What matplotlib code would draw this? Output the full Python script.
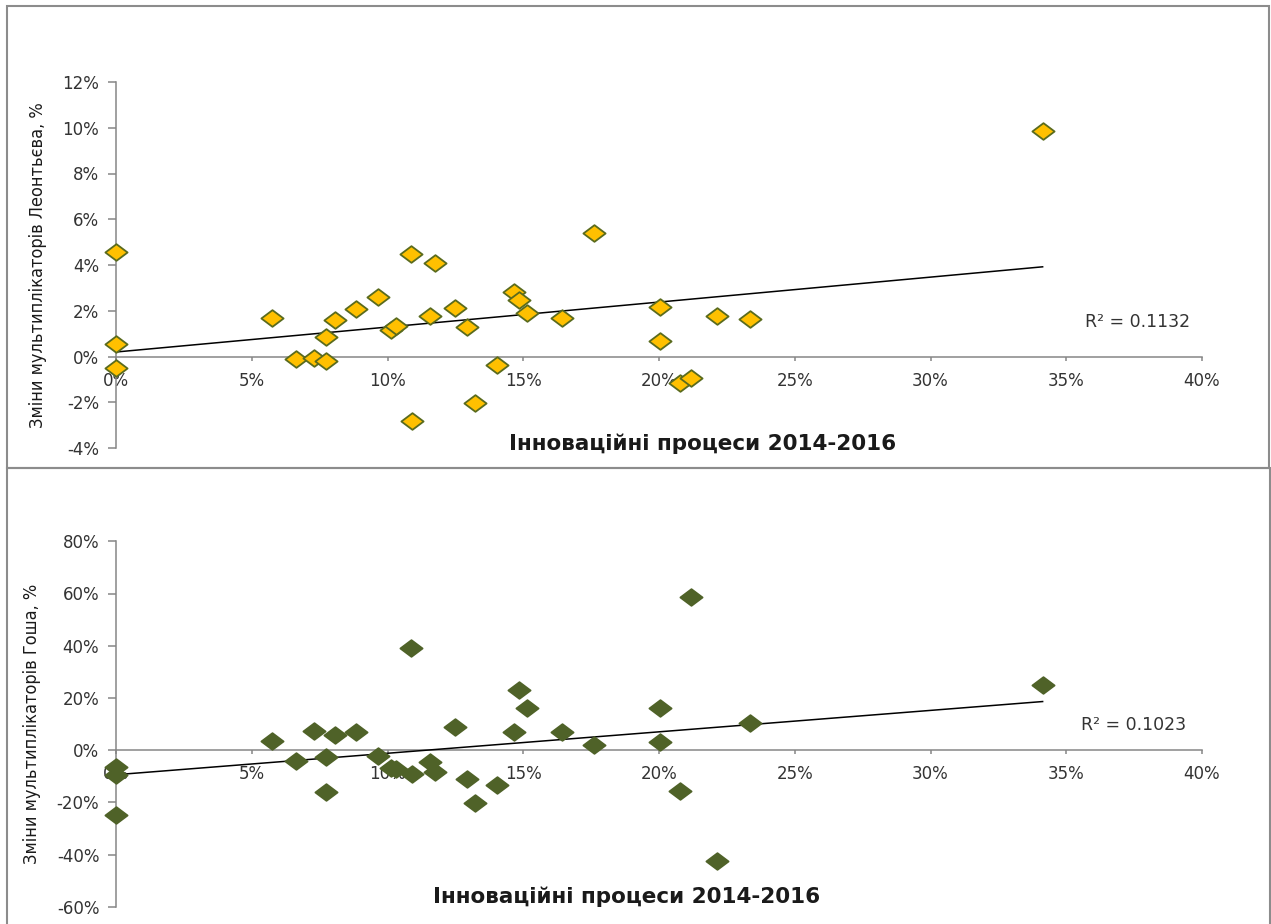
import matplotlib
matplotlib.use("Agg")
import matplotlib.pyplot as plt
import matplotlib.patches as mpatches
from matplotlib.path import Path
from matplotlib.ticker import PercentFormatter, MultipleLocator
import numpy as np

plt.rcParams['axes.unicode_minus'] = False

# innovation share, 2014-2016 (%), same regions in both panels
innovation = [0, 0, 0, 5.74, 6.63, 7.28, 7.72, 7.75, 8.06, 8.84, 9.64, 10.13,
              10.32, 10.87, 10.92, 11.55, 11.75, 12.48, 12.94, 13.21, 14.02,
              14.67, 14.85, 15.15, 16.42, 17.59, 20.02, 20.02, 20.79, 21.18,
              22.14, 23.37, 34.13]
# change of Leontief multipliers (%)
leontief = [4.55, 0.55, -0.51, 1.67, -0.10, -0.06, -0.20, 0.84, 1.60, 2.08,
            2.59, 1.17, 1.34, 4.48, -2.84, 1.78, 4.07, 2.13, 1.31, -2.04,
            -0.35, 2.84, 2.49, 1.88, 1.67, 5.40, 2.18, 0.66, -1.16, -0.93,
            1.75, 1.62, 9.87]
# change of Ghosh multipliers (%)
ghosh = [-6.4, -9.6, -24.9, 3.6, -4.2, 7.4, -2.8, -16.2, 5.7, 7.0, -2.2,
         -7.0, -7.2, 39.0, -9.2, -4.5, -8.3, 8.9, -11.2, -20.4, -13.2, 6.8,
         23.2, 16.3, 6.8, 1.9, 16.0, 3.2, -15.7, 58.5, -42.4, 10.2, 24.9]

r2_labels = ["R² = 0.1132", "R² = 0.1023"]
ylabels = ["Зміни мультиплікаторів Леонтьєва, %", "Зміни мультиплікаторів Гоша, %"]
xlabel = "Інноваційні процеси 2014-2016"

W, H = 1271, 924
fig = plt.figure(figsize=(W / 100, H / 100), dpi=100)

def fx(px):
    return px / W

def fy(py):
    return 1 - py / H

# diamond slightly wider than tall
diamond = Path([(-1, 0), (0, 0.75), (1, 0), (0, -0.75), (-1, 0)],
               [Path.MOVETO, Path.LINETO, Path.LINETO, Path.LINETO, Path.CLOSEPOLY])

AXIS_GRAY = '#868686'
TEXT = '#333333'

# panel frames
frame_kw = dict(transform=fig.transFigure, fill=False, edgecolor='#8c8c8c', linewidth=1.5)
fig.patches.append(mpatches.Rectangle((fx(7), fy(468)), fx(1269) - fx(7), fy(6) - fy(468), **frame_kw))
fig.patches.append(mpatches.Rectangle((fx(7), fy(940)), fx(1270) - fx(7), fy(468) - fy(940), **frame_kw))

panels = [
    dict(y=leontief, rect=(116, 82, 1202, 448), ylim=(-4, 12), ystep=2,
         face='#FFC000', edge='#5a6b1e', ylab_x=38, xlab_c=(703, 444), r2_c=(1138, 322)),
    dict(y=ghosh, rect=(116, 541.3, 1202, 906.7), ylim=(-60, 80), ystep=20,
         face='#4F6228', edge='#4F6228', ylab_x=32, xlab_c=(627, 897), r2_c=(1134, 725)),
]

for p, ylab, r2 in zip(panels, ylabels, r2_labels):
    x0, y0, x1, y1 = p['rect']
    ax = fig.add_axes((fx(x0), fy(y1), fx(x1) - fx(x0), fy(y0) - fy(y1)))
    ax.set_xlim(0, 40)
    ax.set_ylim(*p['ylim'])
    ax.xaxis.set_major_locator(MultipleLocator(5))
    ax.yaxis.set_major_locator(MultipleLocator(p['ystep']))
    ax.xaxis.set_major_formatter(PercentFormatter(100, decimals=0))
    ax.yaxis.set_major_formatter(PercentFormatter(100, decimals=0))

    for side in ('top', 'right'):
        ax.spines[side].set_visible(False)
    ax.spines['bottom'].set_position(('data', 0))
    for side in ('left', 'bottom'):
        ax.spines[side].set_color(AXIS_GRAY)
        ax.spines[side].set_linewidth(1.1)
    ax.tick_params(axis='y', direction='out', length=6, width=1.1, pad=6,
                   color=AXIS_GRAY, labelcolor=TEXT, labelsize=12)
    ax.tick_params(axis='x', direction='out', length=3, width=1.1, pad=8,
                   color=AXIS_GRAY, labelcolor=TEXT, labelsize=12)
    ax.patch.set_alpha(0)

    xs = np.array(innovation)
    ys = np.array(p['y'])
    ax.plot(xs, ys, linestyle='none', marker=diamond, markersize=16,
            markerfacecolor=p['face'], markeredgecolor=p['edge'],
            markeredgewidth=1.3, zorder=4, clip_on=False)

    # linear trend over the data range
    k, b = np.polyfit(xs, ys, 1)
    tx = np.array([xs.min(), xs.max()])
    ax.plot(tx, k * tx + b, color='black', linewidth=1.1, zorder=3)

    fig.text(fx(p['ylab_x']), fy((y0 + y1) / 2), ylab, rotation=90, ha='center', va='center',
             fontsize=13, fontstretch='condensed', color='#1a1a1a',
             family=['DejaVu Sans'])
    fig.text(fx(p['xlab_c'][0]), fy(p['xlab_c'][1]), xlabel, ha='center', va='center',
             fontsize=15.5, fontweight='bold', color='#1a1a1a')
    fig.text(fx(p['r2_c'][0]), fy(p['r2_c'][1]), r2, ha='center', va='center',
             fontsize=12.5, color=TEXT)

fig.savefig('out.png', dpi=100)
